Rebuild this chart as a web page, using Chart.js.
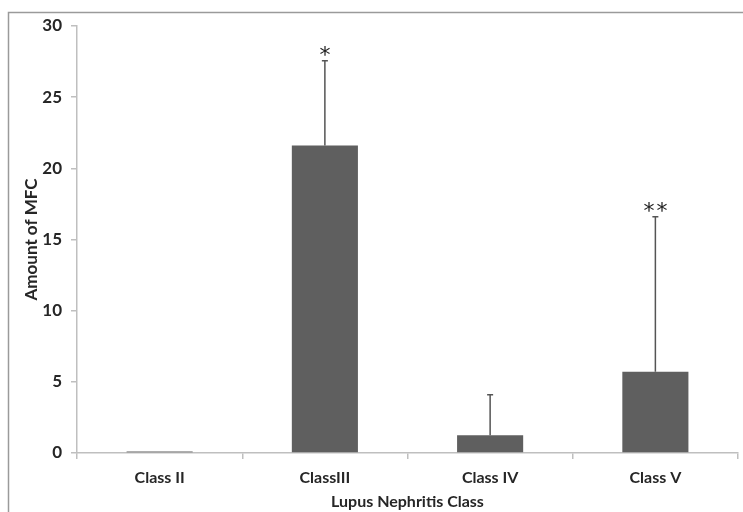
<!DOCTYPE html>
<html>
<head>
<meta charset="utf-8">
<script src="https://cdn.jsdelivr.net/npm/chart.js@4.4.1/dist/chart.umd.min.js"></script>
<style>
  html, body { margin: 0; padding: 0; background: #fff; }
  #wrap { position: relative; width: 743px; height: 512px; }
</style>
</head>
<body>
<div id="wrap"><canvas id="chart"></canvas></div>
<script>
// Lupus nephritis classes vs amount of MFC (mean + SD)
const classes = ["Class II", "ClassIII", "Class IV", "Class V"];
const meanMfc = [0.1, 21.6, 1.25, 5.7];
const errorTop = [0.1, 27.55, 4.1, 16.6];
const markers = ["", "*", "", "**"];

const axisColor = "#bfbfbf";
const textColor = "#262626";
const fontFamily = "Lato, 'Open Sans', sans-serif";

// frame round the figure, like the original exported image
const framePlugin = {
  id: "frame",
  beforeDraw(chart) {
    const c = chart.ctx;
    c.save();
    c.strokeStyle = "#9a9a9a";
    c.lineWidth = 1.5;
    c.beginPath();
    c.moveTo(8.5, 520);
    c.lineTo(8.5, 12.5);
    c.lineTo(760, 12.5);
    c.stroke();
    c.restore();
  },
};

// upper error bars and significance stars
const errorBarPlugin = {
  id: "errorBars",
  afterDatasetsDraw(chart) {
    const c = chart.ctx;
    const x = chart.scales.x;
    const y = chart.scales.y;
    c.save();
    classes.forEach((name, i) => {
      const px = x.getPixelForValue(i);
      const yBase = y.getPixelForValue(meanMfc[i]);
      const yTop = y.getPixelForValue(errorTop[i]);
      if (errorTop[i] > meanMfc[i]) {
        c.strokeStyle = "#555";
        c.lineWidth = 1.5;
        c.beginPath();
        c.moveTo(px, yBase);
        c.lineTo(px, yTop);
        c.moveTo(px - 3, yTop);
        c.lineTo(px + 3, yTop);
        c.stroke();
      }
      const stars = markers[i].length;
      c.fillStyle = "#222";
      c.font = "22px 'DejaVu Sans', sans-serif";
      c.textAlign = "center";
      c.textBaseline = "alphabetic";
      for (let k = 0; k < stars; k++) {
        const dx = (k - (stars - 1) / 2) * 13;
        c.fillText("*", px + dx, yTop + 1);
      }
    });
    c.restore();
  },
};

new Chart(document.getElementById("chart"), {
  type: "bar",
  data: {
    labels: classes,
    datasets: [
      {
        data: meanMfc,
        backgroundColor: "#5f5f5f",
        borderWidth: 0,
        categoryPercentage: 1,
        barPercentage: 0.4,
      },
    ],
  },
  options: {
    responsive: true,
    maintainAspectRatio: false,
    animation: false,
    layout: { padding: { left: 21, right: 5, top: 26, bottom: 0 } },
    plugins: {
      legend: { display: false },
      tooltip: { enabled: false },
    },
    scales: {
      x: {
        offset: true,
        border: { color: axisColor, width: 1.5 },
        grid: {
          offset: true,
          drawOnChartArea: false,
          color: axisColor,
          tickLength: 6,
          lineWidth: 1.5,
        },
        ticks: {
          color: textColor,
          padding: 9,
          font: { family: fontFamily, size: 16, weight: "bold" },
        },
        title: {
          display: true,
          text: "Lupus Nephritis Class",
          color: textColor,
          padding: { top: 2, bottom: 1 },
          font: { family: fontFamily, size: 16, weight: "bold" },
        },
        afterFit: (s) => { s.height = 59; },
      },
      y: {
        min: 0,
        max: 30,
        border: { color: axisColor, width: 1.5 },
        grid: {
          drawOnChartArea: false,
          color: axisColor,
          tickLength: 6,
          lineWidth: 1.5,
        },
        ticks: {
          stepSize: 5,
          color: textColor,
          padding: 9,
          font: { family: fontFamily, size: 17, weight: "bold" },
        },
        title: {
          display: true,
          text: "Amount of MFC",
          color: textColor,
          padding: { top: 0, bottom: 0 },
          font: { family: fontFamily, size: 17, weight: "bold" },
        },
        afterFit: (s) => { s.width = 56; },
      },
    },
  },
  plugins: [framePlugin, errorBarPlugin],
});
</script>
</body>
</html>
